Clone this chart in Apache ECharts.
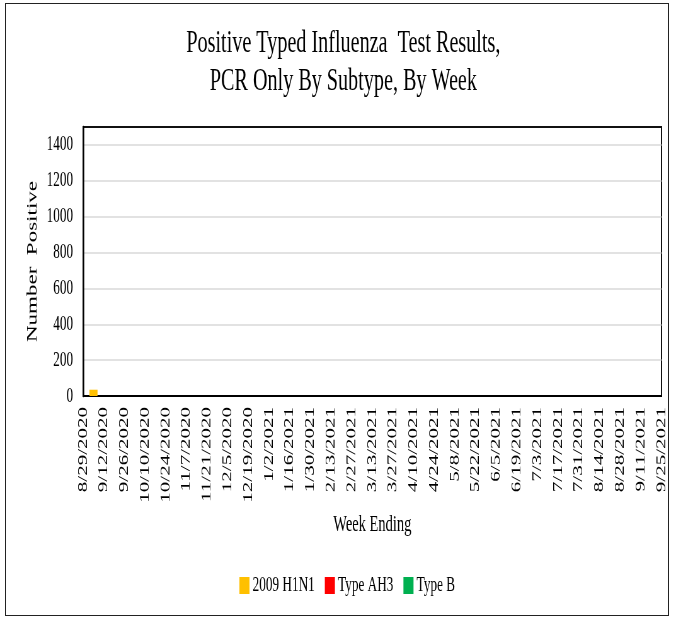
<!DOCTYPE html>
<html>
<head>
<meta charset="utf-8">
<script src="https://cdn.jsdelivr.net/npm/echarts@6/dist/echarts.min.js"></script>
<style>
  html, body { margin: 0; padding: 0; background: #fff; overflow: hidden; }
  #wrap { position: relative; width: 673px; height: 618px; }
  /* the reference is squeezed horizontally, so draw wide and scale down */
  #chart { position: absolute; left: 0; top: 0; width: 1068px; height: 618px;
           transform: scaleX(0.63); transform-origin: 0 0; }
  #frame { position: absolute; left: 5px; top: 3px; width: 662px; height: 611px;
           border: 1.5px solid #222; pointer-events: none; }
</style>
</head>
<body>
<div id="wrap">
  <div id="chart"></div>
  <div id="frame"></div>
</div>
<script>
const weeks = [
  '8/29/2020', '9/5/2020', '9/12/2020', '9/19/2020', '9/26/2020', '10/3/2020',
  '10/10/2020', '10/17/2020', '10/24/2020', '10/31/2020', '11/7/2020', '11/14/2020',
  '11/21/2020', '11/28/2020', '12/5/2020', '12/12/2020', '12/19/2020', '12/26/2020',
  '1/2/2021', '1/9/2021', '1/16/2021', '1/23/2021', '1/30/2021', '2/6/2021',
  '2/13/2021', '2/20/2021', '2/27/2021', '3/6/2021', '3/13/2021', '3/20/2021',
  '3/27/2021', '4/3/2021', '4/10/2021', '4/17/2021', '4/24/2021', '5/1/2021',
  '5/8/2021', '5/15/2021', '5/22/2021', '5/29/2021', '6/5/2021', '6/12/2021',
  '6/19/2021', '6/26/2021', '7/3/2021', '7/10/2021', '7/17/2021', '7/24/2021',
  '7/31/2021', '8/7/2021', '8/14/2021', '8/21/2021', '8/28/2021', '9/4/2021',
  '9/11/2021', '9/18/2021', '9/25/2021',
]

const h1n1 = [
  0, 35, 0, 0, 0, 0, 0, 0, 0, 0, 0, 0, 0, 0, 0, 0, 0, 0, 0,
  0, 0, 0, 0, 0, 0, 0, 0, 0, 0, 0, 0, 0, 0, 0, 0, 0, 0, 0,
  0, 0, 0, 0, 0, 0, 0, 0, 0, 0, 0, 0, 0, 0, 0, 0, 0, 0, 0,
]
const typeAH3 = [
  0, 0, 0, 0, 0, 0, 0, 0, 0, 0, 0, 0, 0, 0, 0, 0, 0, 0, 0,
  0, 0, 0, 0, 0, 0, 0, 0, 0, 0, 0, 0, 0, 0, 0, 0, 0, 0, 0,
  0, 0, 0, 0, 0, 0, 0, 0, 0, 0, 0, 0, 0, 0, 0, 0, 0, 0, 0,
]
const typeB = [
  0, 0, 0, 0, 0, 0, 0, 0, 0, 0, 0, 0, 0, 0, 0, 0, 0, 0, 0,
  0, 0, 0, 0, 0, 0, 0, 0, 0, 0, 0, 0, 0, 0, 0, 0, 0, 0, 0,
  0, 0, 0, 0, 0, 0, 0, 0, 0, 0, 0, 0, 0, 0, 0, 0, 0, 0, 0,
]

const seriesNames = ['2009 H1N1', 'Type AH3', 'Type B']
const seriesColors = ['#FFC000', '#FF0000', '#00B050']
// axis tops out at 1500 but the last label shown is 1400
const yTicks = { min: 0, max: 1500, interval: 100 }

const font = 'Liberation Serif, Times New Roman, serif'

const chart = echarts.init(document.getElementById('chart'), null, { renderer: 'canvas' })

const option = {
  animation: false,
  backgroundColor: '#fff',
  title: {
    text: 'Positive Typed Influenza  Test Results,\nPCR Only By Subtype, By Week',
    left: 540,
    top: 20,
    textAlign: 'center',
    textStyle: { fontFamily: font, fontSize: 32, fontWeight: 'normal', color: '#000', lineHeight: 38 },
  },
  legend: {
    left: 375,
    top: 570,
    itemWidth: 16,
    itemHeight: 17,
    itemGap: 16,
    icon: 'rect',
    textStyle: { fontFamily: font, fontSize: 21, color: '#000' },
    data: seriesNames,
  },
  grid: {
    left: 132,
    right: 18,
    top: 127,
    bottom: 222,
    show: true,
    borderColor: '#111',
    borderWidth: 2,
  },
  xAxis: {
    type: 'category',
    data: weeks,
    boundaryGap: false,
    name: 'Week Ending',
    nameLocation: 'middle',
    nameGap: 117,
    nameTextStyle: { fontFamily: font, fontSize: 23, color: '#000' },
    axisLine: { lineStyle: { color: '#000', width: 2 } },
    axisTick: { show: false },
    axisLabel: {
      interval: 1,
      rotate: 90,
      margin: 11,
      hideOverlap: false,
      fontFamily: font,
      fontSize: 21,
      color: '#000',
    },
    splitLine: { show: false },
  },
  yAxis: {
    type: 'value',
    min: yTicks.min,
    max: yTicks.max,
    interval: yTicks.interval,
    name: 'Number  Positive',
    nameLocation: 'middle',
    nameGap: 64,
    nameTextStyle: { fontFamily: font, fontSize: 23, color: '#000' },
    axisLine: { show: true, lineStyle: { color: '#000', width: 2.5 } },
    axisTick: { show: false },
    axisLabel: {
      margin: 16,
      fontFamily: font,
      fontSize: 21,
      color: '#000',
      showMaxLabel: false,
      formatter: (val) => (val % 200 === 0 ? String(val) : ''),
    },
    splitLine: {
      lineStyle: {
        color: ['#d9d9d9', 'transparent'],
        width: 1.5,
      },
    },
  },
  series: [h1n1, typeAH3, typeB].map((vals, idx) => ({
    name: seriesNames[idx],
    type: 'bar',
    stack: 'flu',
    barWidth: '78%',
    data: vals,
    itemStyle: { color: seriesColors[idx] },
  })),
}

chart.setOption(option)
</script>
</body>
</html>
